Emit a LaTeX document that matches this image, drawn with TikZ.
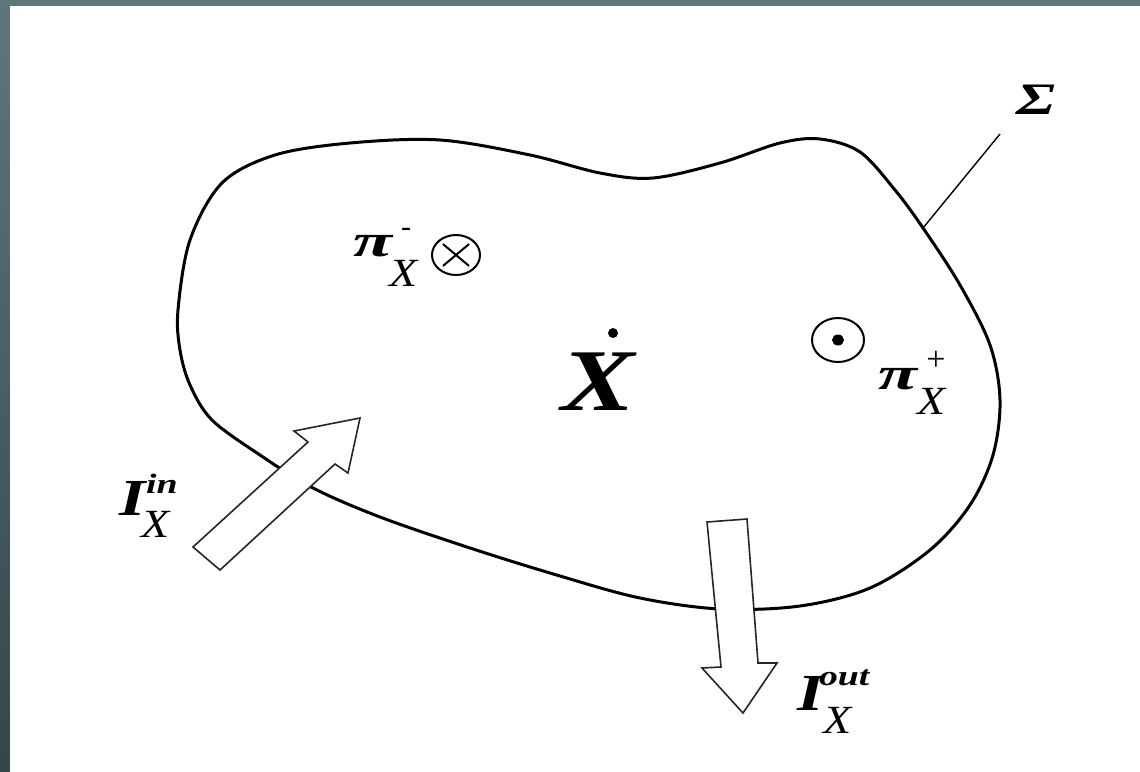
\documentclass[tikz,border=0pt]{standalone}
\usepackage{fontspec}
\setmainfont{Liberation Serif}
\definecolor{slatetop}{HTML}{5F767D}
\definecolor{slatebot}{HTML}{33474A}
\tikzset{
  lbl/.style={inner sep=0pt, outer sep=0pt, anchor=base west, text=black},
  blob/.style={line width=3pt, line join=round},
  flow/.style={draw=black!85, fill=white, line width=1.6pt, line join=miter},
  sym/.style={line width=2pt}
}
\newcommand{\wtxt}[3]{\scalebox{#1}[1]{\fontsize{#2}{#2}\selectfont #3}}
\begin{document}
\begin{tikzpicture}[x=1pt,y=-1pt]
\useasboundingbox (0,0) rectangle (1140,771);
\shade[top color=slatetop, bottom color=slatebot] (0,0) rectangle (1140,771);
\fill[white] (10,6) rectangle (1141,772);
% boundary Sigma
\draw[blob] plot[smooth cycle, tension=0.55] coordinates {
 (178,310) (190,240) (222,183) (275,155) (350,143) (440,140) (530,155)
 (600,173) (653,178) (720,163) (780,143) (820,139) (860,152) (895,190)
 (923,228) (960,285) (990,345) (1000,400) (993,455) (970,505) (930,550)
 (870,588) (800,606) (720,609) (640,598) (560,576) (470,548) (380,517)
 (313,488) (260,455) (212,420) (190,385) (180,350)};
% Sigma leader
\coordinate (sigfoot) at (923,228);
\coordinate (sigtop) at (1000,134);
\draw[line width=1.4pt] (sigfoot) -- (sigtop);
\node[lbl] (sigma) at (1016,114) {\wtxt{1.4}{45}{\bfseries\itshape Σ}};
% inflow arrow
\draw[flow] (193,547) -- (308,442) -- (294,431) -- (360,418) -- (348,473) -- (335,464) -- (220,570) -- cycle;
% outflow arrow
\draw[flow] (707,522) -- (747,519) -- (758,663) -- (777,663) -- (743,713) -- (702,668) -- (721,667) -- cycle;
% X dot
\node[lbl] (X) at (561,410) {\wtxt{1.25}{88}{\bfseries\itshape X}};
\fill (613,333) circle (5);
% pi minus
\node[lbl] (pim) at (353,256) {\wtxt{1.55}{46}{\bfseries\itshape π}};
\node[inner sep=0pt] (pimsup) at (406,232) {\fontsize{30}{30}\selectfont -};
\node[lbl] (pimsub) at (389,286) {\wtxt{1.15}{40}{\itshape X}};
% otimes
\draw[sym] (456,255) ellipse (24 and 20);
\draw[sym] (456,255) ++(40:17) -- ++(220:34);
\draw[sym] (456,255) ++(140:17) -- ++(-40:34);
% odot
\draw[sym] (838,340) ellipse (26 and 22);
\fill (838,340) ellipse (6 and 5.5);
% pi plus
\node[lbl] (pip) at (878,389) {\wtxt{1.55}{46}{\bfseries\itshape π}};
\node[inner sep=0pt] (pipsup) at (936,361) {\fontsize{34}{34}\selectfont +};
\node[lbl] (pipsub) at (917,414) {\wtxt{1.15}{40}{\itshape X}};
% I in
\node[lbl] (Iin) at (119,515) {\wtxt{1.3}{52}{\bfseries\itshape I}};
\node[lbl] (Iinsup) at (146,493) {\wtxt{1.35}{28}{\bfseries\itshape in}};
\node[lbl] (Iinsub) at (141,537) {\wtxt{1.15}{40}{\itshape X}};
% I out
\node[lbl] (Iout) at (797,710) {\wtxt{1.3}{52}{\bfseries\itshape I}};
\node[lbl] (Ioutsup) at (819,685) {\wtxt{1.35}{28}{\bfseries\itshape out}};
\node[lbl] (Ioutsub) at (823,733) {\wtxt{1.15}{40}{\itshape X}};
\end{tikzpicture}
\end{document}
